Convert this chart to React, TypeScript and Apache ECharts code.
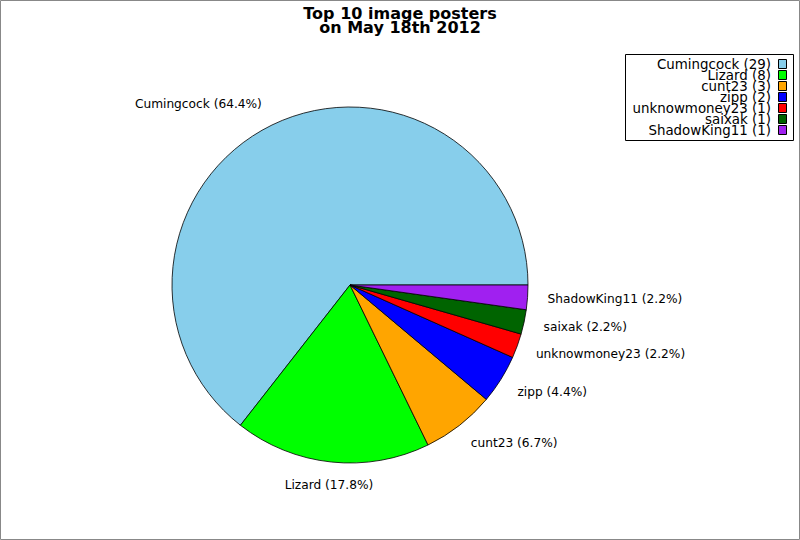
import React, { useEffect, useRef } from 'react';
import * as echarts from 'echarts';

const names = ['Cumingcock', 'Lizard', 'cunt23', 'zipp', 'unknowmoney23', 'saixak', 'ShadowKing11'];
const counts = [29, 8, 3, 2, 1, 1, 1];
const colors = ['#87CEEB', '#00FF00', '#FFA500', '#0000FF', '#FF0000', '#006400', '#A020F0'];
const titleLines = ['Top 10 image posters', 'on May 18th 2012'];

const FONT = 'DejaVu Sans';
const CX = 350;
const CY = 285;
const R = 178;
const LABEL_R = 201;

const total = counts.reduce((a, b) => a + b, 0);

// mid angle of each slice, counter-clockwise from 3 o'clock
const midAngles: number[] = [];
{
    let acc = 0;
    counts.forEach((c) => {
        midAngles.push(((acc + c / 2) / total) * Math.PI * 2);
        acc += c;
    });
}

const App: React.FC = () => {
    const chartRef = useRef<HTMLDivElement>(null);

    useEffect(() => {
        const chartDom = chartRef.current!;
        const myChart = echarts.init(chartDom, undefined, { renderer: 'svg' });

        const legendItems: any[] = [];
        names.forEach((n, i) => {
            const y = 64 + i * 11;
            legendItems.push({
                type: 'text',
                x: 771,
                y: y,
                style: {
                    text: n + ' (' + counts[i] + ')',
                    align: 'right',
                    verticalAlign: 'middle',
                    font: '13.4px "' + FONT + '"',
                    fill: '#000',
                },
            });
            legendItems.push({
                type: 'rect',
                shape: { x: 778.5, y: y - 4.5, width: 8, height: 9 },
                style: { fill: colors[i], stroke: '#000', lineWidth: 1 },
            });
        });

        const option: echarts.EChartsOption = {
            animation: false,
            backgroundColor: '#fff',
            title: {
                text: titleLines.join('\n'),
                left: 'center',
                top: 1,
                textStyle: {
                    fontFamily: FONT,
                    fontWeight: 'bold',
                    fontSize: 16,
                    lineHeight: 14,
                    color: '#000',
                },
            },
            graphic: [
                {
                    type: 'rect',
                    shape: { x: 0.5, y: 0.5, width: 799, height: 539 },
                    style: { fill: 'none', stroke: '#888', lineWidth: 1 },
                    z: 100,
                },
                {
                    type: 'rect',
                    shape: { x: 625.5, y: 54.5, width: 168, height: 86 },
                    style: { fill: '#fff', stroke: '#000', lineWidth: 1 },
                },
                ...legendItems,
            ],
            series: [
                {
                    type: 'pie',
                    center: [CX, CY],
                    radius: R,
                    startAngle: 0,
                    clockwise: false,
                    avoidLabelOverlap: false,
                    data: names.map((n, i) => ({
                        name: n,
                        value: counts[i],
                        itemStyle: { color: colors[i] },
                    })),
                    itemStyle: { borderColor: '#000', borderWidth: 0.8 },
                    emphasis: { disabled: true },
                    label: {
                        show: true,
                        position: 'outside',
                        formatter: (p: any) => p.name + ' (' + (p.value / total * 100).toFixed(1) + '%)',
                        fontFamily: FONT,
                        fontSize: 12.2,
                        color: '#000',
                    },
                    labelLine: { show: false },
                    labelLayout: (params: any) => {
                        const a = midAngles[params.dataIndex];
                        const c = Math.cos(a);
                        const s = Math.sin(a);
                        let align = 'left';
                        if (c < -0.2) align = 'right';
                        else if (c < 0.2) align = 'center';
                        return {
                            x: CX + LABEL_R * c + (align === 'left' ? -3 : 0),
                            y: CY - LABEL_R * s,
                            align: align,
                            verticalAlign: 'middle',
                        };
                    },
                },
            ],
        };

        myChart.setOption(option);

        return () => {
            myChart.dispose();
        };
    }, []);

    return (
        <div
            ref={chartRef}
            style={{ position: 'fixed', left: 0, top: 0, width: 800, height: 540 }}
        />
    );
};

export default App;
